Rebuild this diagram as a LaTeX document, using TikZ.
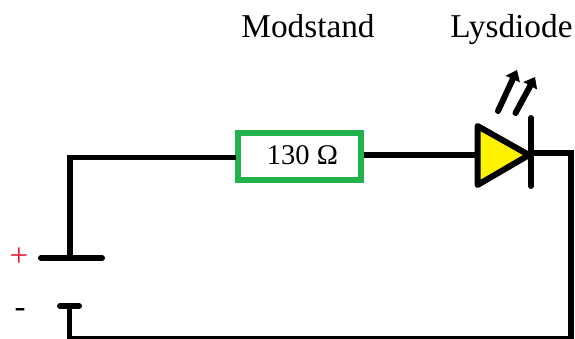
\documentclass[tikz,border=0pt]{standalone}
\usepackage{fontspec}
\setmainfont{Liberation Serif}
\usetikzlibrary{arrows.meta}
\definecolor{boxgreen}{RGB}{34,177,76}
\definecolor{ledyellow}{RGB}{255,242,0}
\definecolor{plusred}{RGB}{237,28,60}
\tikzset{
  wire/.style={draw=black,line width=5.5pt,line join=miter},
  plate/.style={draw=black,line width=6pt,line cap=round},
  lightarrow/.style={draw=black,line width=6pt,line cap=round,-{Triangle[length=10pt,width=15pt]}},
  caption/.style={font=\fontsize{33.3}{33}\selectfont,inner sep=0pt,text=black,anchor=base},
  resistorbox/.style={draw=boxgreen,line width=6pt,fill=white,minimum width=123.5pt,minimum height=47.5pt,inner sep=0pt},
  ohmlabel/.style={inner sep=0pt,font=\fontsize{28.5}{28}\selectfont},
  ledbody/.style={draw=black,fill=ledyellow,line width=6pt,line join=round},
  polarity/.style={inner sep=0pt,font=\fontsize{33}{33}\selectfont}
}
\begin{document}
\begin{tikzpicture}[x=1pt,y=-1pt]
\useasboundingbox (0,0) rectangle (575,338);
\node[caption] (modstand) at (308,37) {Modstand};
\node[caption] (lysdiode) at (511.5,37) {Lysdiode};
\node[resistorbox] (res) at (299.5,156.5) {};
\node[ohmlabel] (ohm) at (302.5,155.5) {130 Ω};
\coordinate (platetopL) at (41,258);
\coordinate (platetopR) at (102,258);
\coordinate (topjoint) at (70,258);
\coordinate (corner1) at (70,157.5);
\coordinate (resL) at (236,157.5);
\coordinate (resR) at (364,155);
\coordinate (ledL) at (477.5,155);
\coordinate (ledA) at (477.5,126);
\coordinate (ledB) at (477.5,185);
\coordinate (ledTip) at (529,155);
\coordinate (barT) at (531,118);
\coordinate (barB) at (531,186);
\coordinate (corner2) at (571,153);
\coordinate (corner3) at (571,339);
\coordinate (corner4) at (69,339);
\coordinate (plateBL) at (60,306);
\coordinate (plateBR) at (79,306);
\coordinate (plateBM) at (69.5,306);
\draw[wire] (topjoint) -- (corner1) -- (resL);
\draw[wire] (resR) -- (ledL);
\draw[ledbody] (ledA) -- (ledTip) -- (ledB) -- cycle;
\draw[plate] (barT) -- (barB);
\draw[wire] (ledTip |- corner2) -- (corner2) -- (corner3) -- (corner4);
\draw[wire] (plateBM) -- (plateBM |- corner4);
\draw[plate] (platetopL) -- (platetopR);
\draw[plate] (plateBL) -- (plateBR);
\coordinate (a1s) at (498,111);
\coordinate (a1e) at (517,70);
\coordinate (a2s) at (515.5,113);
\coordinate (a2e) at (535,77);
\draw[lightarrow] (a1s) -- (a1e);
\draw[lightarrow] (a2s) -- (a2e);
\node[polarity,text=plusred] (plus) at (19,257) {+};
\node[polarity,text=black] (minus) at (20,313) {-};
\end{tikzpicture}
\end{document}
